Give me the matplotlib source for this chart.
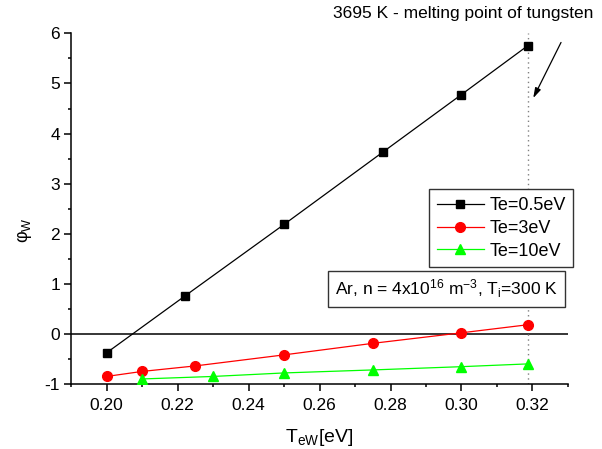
import matplotlib
matplotlib.use('Agg')
import matplotlib.pyplot as plt
from matplotlib.ticker import MultipleLocator

plt.rcParams['font.family'] = ['Liberation Sans', 'DejaVu Sans']
plt.rcParams['mathtext.fontset'] = 'custom'
plt.rcParams['mathtext.rm'] = 'Liberation Sans'
plt.rcParams['mathtext.it'] = 'Liberation Sans:italic'
plt.rcParams['axes.unicode_minus'] = False

# data
t_melt = 0.3186
te05_x = [0.20, 0.2222, 0.25, 0.2778, 0.30, t_melt]
te05_y = [-0.37, 0.77, 2.19, 3.63, 4.78, 5.75]
te3_x = [0.20, 0.21, 0.225, 0.25, 0.275, 0.30, t_melt]
te3_y = [-0.84, -0.74, -0.63, -0.41, -0.18, 0.03, 0.19]
te10_x = [0.21, 0.23, 0.25, 0.275, 0.30, t_melt]
te10_y = [-0.89, -0.84, -0.77, -0.71, -0.645, -0.59]
labels = ['Te=0.5eV', 'Te=3eV', 'Te=10eV']

fig = plt.figure(figsize=(6.02, 4.49), dpi=100)
ax = fig.add_axes([0.118, 0.1437, 0.8255, 0.7821])

ax.axhline(0, color='black', lw=1.1, zorder=1)
ax.axvline(t_melt, color='gray', lw=1.0, ls=(0, (1, 2.5)), zorder=1)

ax.plot(te05_x, te05_y, '-s', color='black', lw=0.9, ms=6, label=labels[0], zorder=3)
ax.plot(te3_x, te3_y, '-o', color='#ff0000', lw=0.9, ms=7, label=labels[1], zorder=3)
ax.plot(te10_x, te10_y, '-^', color='#00ff00', lw=0.9, ms=7.5, label=labels[2], zorder=3)

ax.set_xlim(0.19, 0.33)
ax.set_ylim(-1, 6)
ax.xaxis.set_major_locator(MultipleLocator(0.02))
ax.xaxis.set_minor_locator(MultipleLocator(0.01))
ax.yaxis.set_major_locator(MultipleLocator(1))
ax.yaxis.set_minor_locator(MultipleLocator(0.5))
ax.xaxis.set_major_formatter(plt.FormatStrFormatter('%.2f'))

for s in ['top', 'right']:
    ax.spines[s].set_visible(False)
for s in ['left', 'bottom']:
    ax.spines[s].set_linewidth(1.1)
ax.tick_params(which='major', length=5, width=1.1, labelsize=12.5, pad=3)
ax.tick_params(which='minor', length=2.5, width=1.1)
ax.tick_params(axis='x', which='major', pad=5)

ax.set_xlabel('T$_{\\mathrm{eW}}$[eV]', fontsize=14)
ax.set_ylabel('φ$_{\\mathrm{W}}$', fontsize=13)
ax.xaxis.set_label_coords(0.5, -0.165)
ax.xaxis.label.set_va('baseline')
ax.yaxis.set_label_coords(-0.075, 0.44)

leg = fig.legend(loc='upper right', bbox_to_anchor=(0.952, 0.578), bbox_transform=fig.transFigure,
                 fontsize=13, frameon=True, fancybox=False, framealpha=1,
                 edgecolor='#333333', handlelength=2.6, labelspacing=0.32,
                 borderpad=0.42, handletextpad=0.3, borderaxespad=0)
leg.get_frame().set_linewidth(1.0)

fig.text(0.742, 0.356, 'Ar, n = 4x10$^{16}$ m$^{-3}$, T$_{\\mathrm{i}}$=300 K',
         fontsize=12.5, ha='center', va='center',
         bbox=dict(boxstyle='square,pad=0.4', fc='white', ec='#333333', lw=1.0))

ax.annotate('', xy=(0.8837, 0.776), xycoords='figure fraction',
            xytext=(0.934, 0.911), textcoords='figure fraction',
            arrowprops=dict(arrowstyle='-|>,head_length=0.6,head_width=0.18',
                            color='black', lw=0.9))
fig.text(0.769, 0.970, '3695 K - melting point of tungsten', fontsize=12.5,
         ha='center', va='center')

fig.savefig('out.png', dpi=100)
